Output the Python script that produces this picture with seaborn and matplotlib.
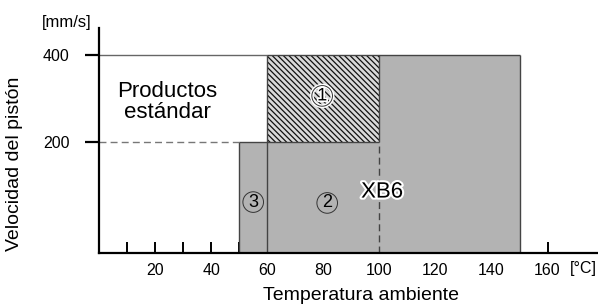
import matplotlib
matplotlib.use('Agg')
import matplotlib.pyplot as plt
import matplotlib.patheffects as pe
import seaborn as sns

# zones of the chart: temperature range [°C] and piston speed range [mm/s]
zone_names = ['3', '2', '1', 'XB6']
temp_start = [50, 60, 60, 100]
temp_end = [60, 100, 100, 150]
speed_low = [None, None, 200, None]   # None -> down to the axis
speed_high = [200, 200, 400, 400]

# limits of the standard products
std_speed = [400, 200]
std_temp = [60, 50]

x_ticks = list(range(10, 161, 10))
x_labels = [str(t) if t % 20 == 0 else '' for t in x_ticks]
y_ticks = [200, 400]

sns.set_style('ticks')
plt.rcParams['font.family'] = ['Liberation Sans', 'DejaVu Sans']
plt.rcParams['text.color'] = 'black'
plt.rcParams['hatch.linewidth'] = 0.9

fig = plt.figure(figsize=(5.98, 3.04), dpi=100)
ax = fig.add_axes([0.1656, 0.1678, 0.8344, 0.740])
ymin, ymax = -55, 462
ax.set_xlim(0, 178)
ax.set_ylim(ymin, ymax)

edge = '#444444'
for name, x0, x1, lo, hi in zip(zone_names, temp_start, temp_end, speed_low, speed_high):
    bottom = ymin if lo is None else lo
    if name == '1':
        ax.bar(x0, hi - bottom, width=x1 - x0, bottom=bottom, align='edge',
               color='#dadada', edgecolor='#111111', hatch='\\' * 6, linewidth=0, zorder=1)
    else:
        ax.bar(x0, hi - bottom, width=x1 - x0, bottom=bottom, align='edge',
               color='#b3b3b3', linewidth=0, zorder=1)

# outlines of the zones
ax.vlines([temp_start[0]], ymin, speed_high[0], color=edge, lw=1, zorder=2)
ax.vlines([temp_start[1]], ymin, speed_high[2], color=edge, lw=1, zorder=2)
ax.vlines([temp_end[3]], ymin, speed_high[3], color=edge, lw=1, zorder=2)
ax.vlines([temp_start[3]], speed_low[2], speed_high[3], color=edge, lw=1, zorder=2)
ax.vlines([temp_start[3]], ymin, speed_low[2], color=edge, lw=1, ls=(0, (5, 3)), zorder=2)
ax.hlines([speed_high[0]], temp_start[0], temp_end[1], color=edge, lw=1, zorder=2)
ax.hlines([speed_high[3]], temp_start[2], temp_end[3], color=edge, lw=1, zorder=2)

# standard products limits
ax.hlines([std_speed[0]], 0, std_temp[0], color='#666666', lw=1, zorder=2)
ax.hlines([std_speed[1]], 0, std_temp[1], color='#777777', lw=1, ls=(0, (5, 3)), zorder=2)

ax.set_xticks(x_ticks)
ax.set_xticklabels(x_labels)
ax.set_yticks(y_ticks)
ax.tick_params(axis='x', direction='in', length=8, width=1.4, pad=7,
               labelsize=11.5, colors='black', bottom=True)
ax.tick_params(axis='y', direction='out', length=10, width=1.6, pad=11,
               labelsize=11.5, colors='black', left=True)
for s in ['top', 'right']:
    ax.spines[s].set_visible(False)
for s in ['left', 'bottom']:
    ax.spines[s].set_linewidth(1.6)
    ax.spines[s].set_color('black')

ax.text(24.3, 292, 'Productos\nestándar', ha='center', va='center',
        fontsize=16, linespacing=1.05, zorder=3)

circ = dict(boxstyle='circle,pad=0.1', fc='none', ec='#333333', lw=0.7)
halo = dict(boxstyle='circle,pad=0.1', fc='none', ec='white', lw=2.8)
ax.text(79.6, 306, zone_names[2], ha='center', va='center', fontsize=13, bbox=halo,
        color='none', zorder=3)
ax.text(79.6, 306, zone_names[2], ha='center', va='center', fontsize=13, bbox=circ,
        path_effects=[pe.withStroke(linewidth=2.5, foreground='white')], zorder=3)
ax.text(81.4, 60, zone_names[1], ha='center', va='center', fontsize=13, bbox=circ, zorder=3)
ax.text(55, 62, zone_names[0], ha='center', va='center', fontsize=13, bbox=circ, zorder=3)
ax.text(101, 85, zone_names[3], ha='center', va='center', fontsize=16,
        path_effects=[pe.withStroke(linewidth=3, foreground='white')], zorder=3)

fig.text(67 / 598, 1 - 22 / 304, '[mm/s]', ha='center', va='center', fontsize=12)
fig.text(583 / 598, 1 - 269 / 304, '[°C]', ha='center', va='center', fontsize=11.5)
fig.text(15 / 598, 1 - 164 / 304, 'Velocidad del pistón', rotation=90,
         ha='center', va='center', fontsize=14)
fig.text(361 / 598, 1 - 295 / 304, 'Temperatura ambiente', ha='center', va='center',
         fontsize=14)

fig.savefig('out.png', dpi=100)
